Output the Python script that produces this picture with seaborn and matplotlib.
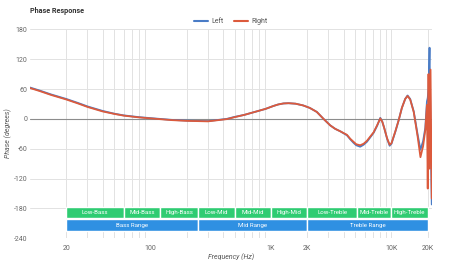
import numpy as np
import pandas as pd
import matplotlib
matplotlib.use("Agg")
import matplotlib.pyplot as plt
import seaborn as sns

# ---------------- data ----------------
freq_hz = [10, 12, 15, 20, 25, 30, 40, 50, 60, 80,
           100, 150, 200, 300, 430, 500, 600, 760, 900, 1050,
           1150, 1270, 1400, 1600, 1850, 2100, 2400, 2730, 3100, 3410,
           3760, 4270, 4550, 4840, 5100, 5500, 5870, 6260, 7110, 7600,
           8080, 8400, 8700, 9200, 9660, 10000, 10800, 11500, 12200, 13000,
           13600, 14300, 15300, 16500, 17400, 18300, 19100, 19700, 20000, 20300,
           20700, 21100, 21600]
left_phase = [63, 57, 49, 40, 32, 25, 16, 10.5, 7, 3.5,
              1.5, -2, -3.5, -4.5, 0, 4, 8, 15, 20, 26,
              29, 31, 31.5, 30.5, 27, 22, 14, 0, -13, -20,
              -25, -33, -41, -48, -53, -56, -52, -46, -28, -14,
              2, -6, -18, -40, -54, -50, -25, -2, 22, 40,
              47, 40, 15, -32, -62, -45, -18, 35, 42, 60,
              143, -20, -172]
right_phase = [62, 56, 48, 39, 31, 24, 15, 10, 6.5, 3,
               1, -2.5, -4, -5, -0.5, 3.5, 8, 15, 20, 26,
               29, 31, 31.5, 30.5, 27, 22, 14, 0, -13, -20,
               -25, -32, -40, -46, -51, -53, -50, -44, -27, -13,
               1, -6, -18, -39, -52, -49, -24, -2, 22, 40,
               46, 39, 14, -36, -77, -55, -22, 28, -140, 90,
               -100, 99, -160]

band_names = ["Low-Bass", "Mid-Bass", "High-Bass", "Low-Mid", "Mid-Mid", "High-Mid",
              "Low-Treble", "Mid-Treble", "High-Treble"]
band_edges = [20, 60, 120, 250, 500, 1000, 2000, 5200, 10000, 20000]
range_names = ["Bass Range", "Mid Range", "Treble Range"]
range_edges = [20, 250, 2000, 20000]

x_tick_values = [20, 100, 1000, 2000, 10000, 20000]
x_tick_labels = ["20", "100", "1K", "2K", "10K", "20K"]
y_tick_values = [180, 120, 60, 0, -60, -120, -180, -240]

# ---------------- style ----------------
sns.set_style("white")
plt.rcParams["font.family"] = ["Roboto", "DejaVu Sans"]

df = pd.concat([
    pd.DataFrame({"freq": freq_hz, "phase": left_phase, "channel": "Left"}),
    pd.DataFrame({"freq": freq_hz, "phase": right_phase, "channel": "Right"}),
])

fig = plt.figure(figsize=(4.5, 2.6), dpi=100)
ax = fig.add_axes([30 / 450, 1 - 238.3 / 260, 402 / 450, (238.3 - 29.3) / 260])

# grid
grid_x = [v * m for m in (10, 100, 1000) for v in range(2, 10)] + [10000, 20000]
grid_x = [g for g in grid_x if g >= 20]
for g in grid_x:
    ax.axvline(g, color="#e2e2e2", lw=0.7, zorder=0)
for yv in y_tick_values:
    ax.axhline(yv, color="#e2e2e2", lw=0.7, zorder=0)
ax.axhline(0, color="#8c8c8c", lw=0.8, zorder=1)

# band boxes
green = "#2fcc72"
blue = "#2f90e2"
for i, name in enumerate(band_names):
    lo, hi = band_edges[i], band_edges[i + 1]
    ax.barh(-188, hi - lo, left=lo, height=22, color=green, edgecolor="white",
            linewidth=1.0, zorder=2, align="center")
    ax.text(np.sqrt(lo * hi), -188, name, color="white", fontsize=4.4,
            ha="center", va="center", zorder=3)
for i, name in enumerate(range_names):
    lo, hi = range_edges[i], range_edges[i + 1]
    ax.barh(-214, hi - lo, left=lo, height=24, color=blue, edgecolor="white",
            linewidth=1.0, zorder=2, align="center")
    ax.text(np.sqrt(lo * hi), -214, name, color="white", fontsize=4.4,
            ha="center", va="center", zorder=3)

sns.lineplot(data=df, x="freq", y="phase", hue="channel",
             palette={"Left": "#4a7cc6", "Right": "#dc5a3c"},
             linewidth=1.3, ax=ax, zorder=4, sort=False, estimator=None)

ax.set_xscale("log")
ax.set_xlim(10, 21700)
ax.set_ylim(-240, 180)
ax.set_xticks(x_tick_values)
ax.set_xticklabels(x_tick_labels)
ax.xaxis.set_minor_locator(matplotlib.ticker.NullLocator())
ax.set_yticks(y_tick_values)
ax.set_yticklabels([str(v) for v in y_tick_values])
ax.tick_params(axis="both", length=0, labelsize=5, colors="#666666")
ax.tick_params(axis="x", pad=5)
ax.tick_params(axis="y", pad=2)
for s in ax.spines.values():
    s.set_visible(False)
ax.set_xlabel("")
ax.set_ylabel("")

leg = ax.legend(loc="lower center", bbox_to_anchor=(0.5, 1.005), ncol=2,
                frameon=False, fontsize=5, handlelength=2.0, columnspacing=1.5,
                handletextpad=0.5, borderaxespad=0)
for t in leg.get_texts():
    t.set_color("#555555")
for h in leg.get_lines():
    h.set_linewidth(1.5)

fig.text(30 / 450, 1 - 11 / 260, "Phase Response", fontsize=5.2, fontweight="bold",
         color="#333333", ha="left", va="center")
fig.text(231 / 450, 1 - 257 / 260, "Frequency (Hz)", fontsize=5, style="italic",
         color="#555555", ha="center", va="center")
fig.text(8 / 450, 1 - 133 / 260, "Phase (degrees)", fontsize=5, style="italic",
         color="#555555", ha="center", va="center", rotation=90)

fig.savefig("out.png", dpi=100)
